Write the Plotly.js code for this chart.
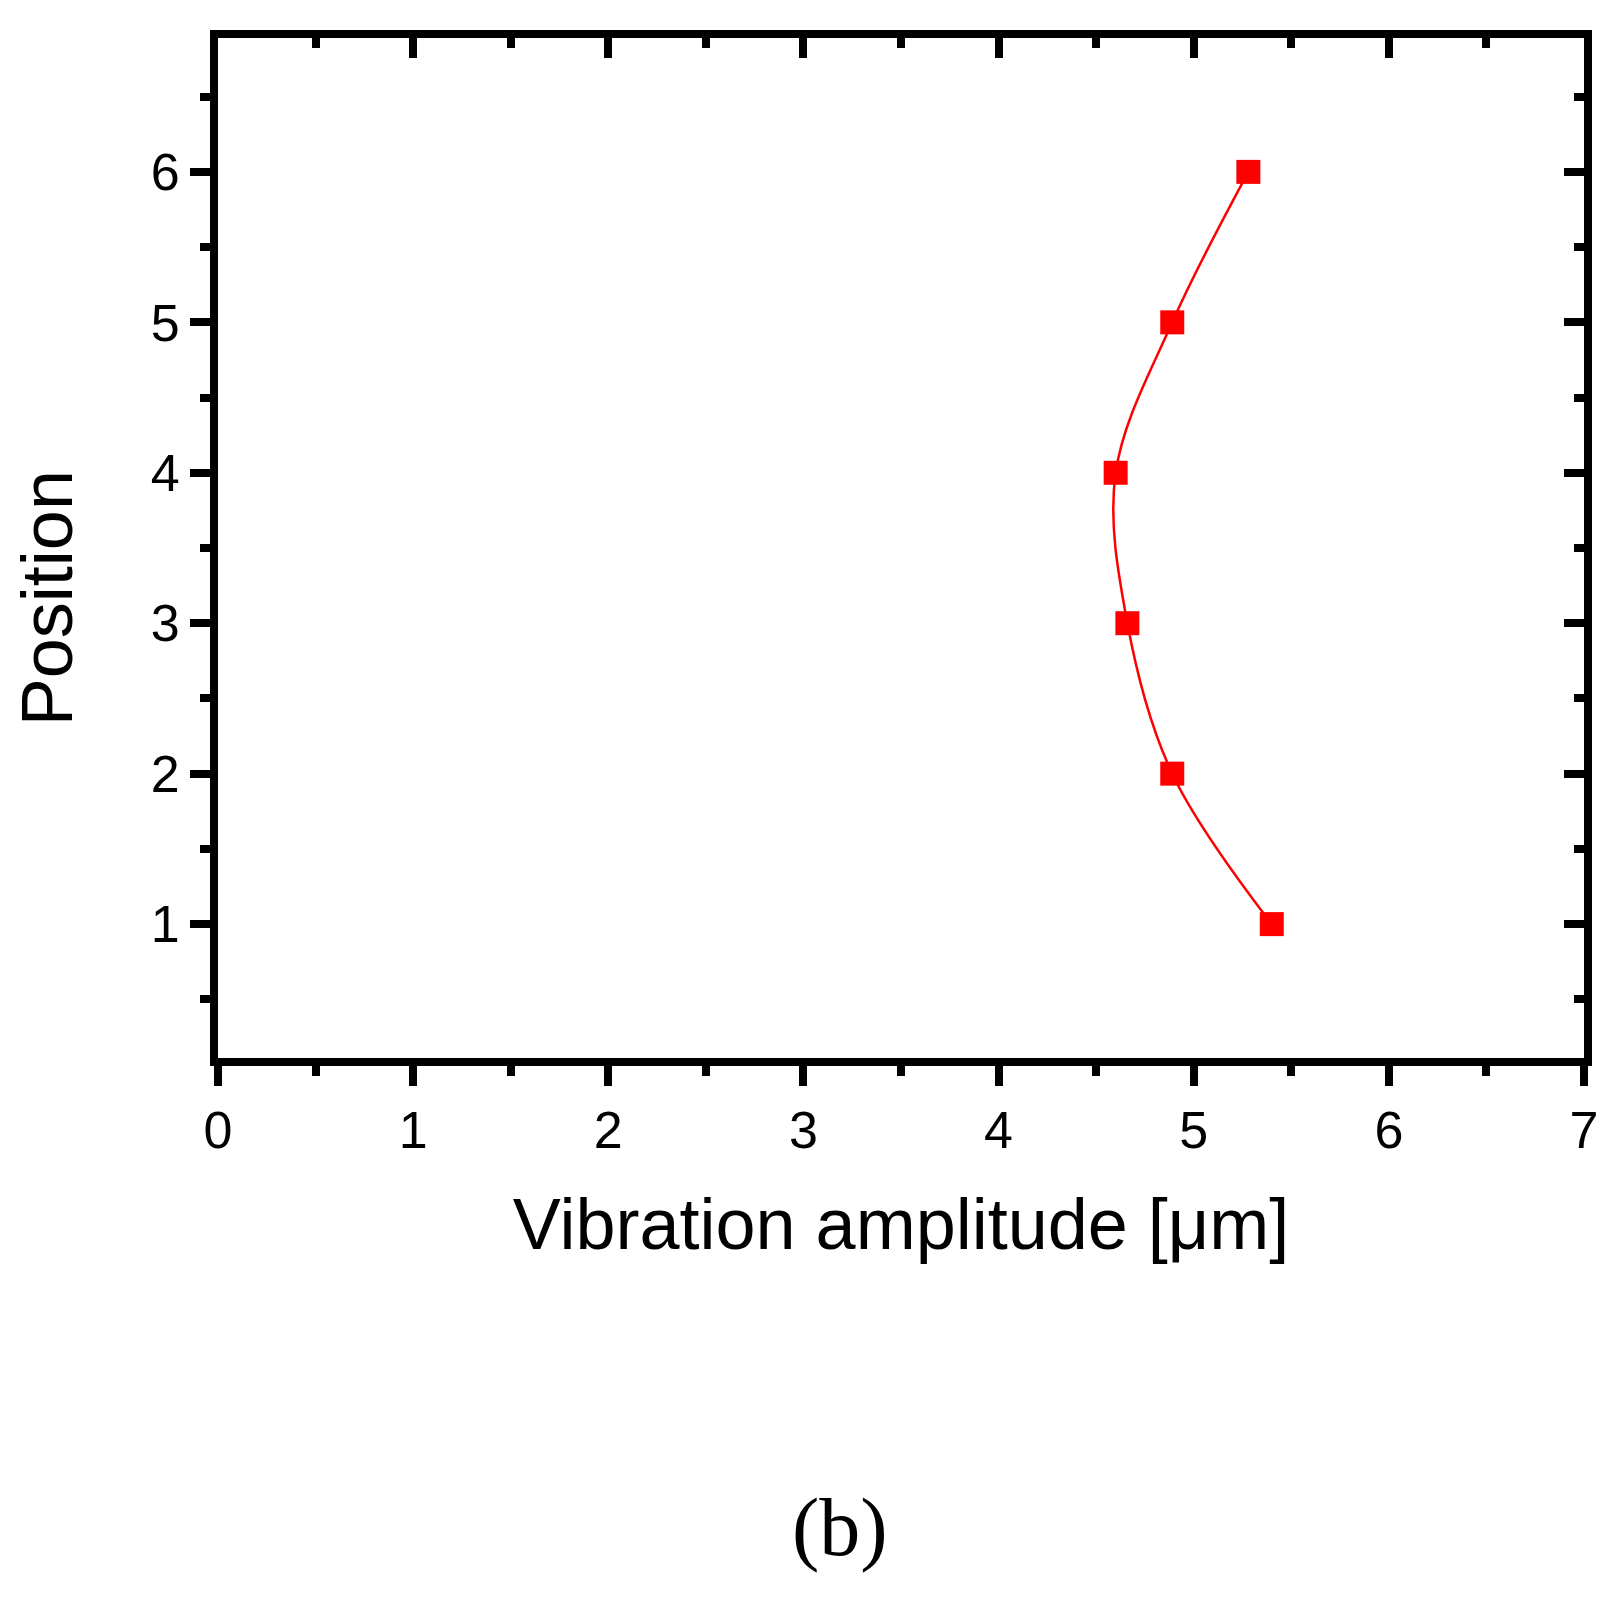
<!DOCTYPE html>
<html>
<head>
<meta charset="utf-8">
<script src="https://cdn.plot.ly/plotly-3.0.1.min.js"></script>
<style>
  body { margin: 0; background: #fff; }
  #chart { width: 1622px; height: 1608px; }
</style>
</head>
<body>
<div id="chart"></div>
<script>
var position = [1, 2, 3, 4, 5, 6];
var amplitude = [5.40, 4.89, 4.66, 4.60, 4.89, 5.28];
var xTitle = 'Vibration amplitude [\u03bcm]';
var yTitle = 'Position';
var panelLabel = '(b)';

var CHART = document.getElementById('chart');

var trace1 = {
  x: amplitude,
  y: position,
  type: 'scatter',
  mode: 'lines+markers',
  line: {color: '#ff0000', width: 2.5, shape: 'spline', smoothing: 1},
  marker: {symbol: 'square', size: 24, color: '#ff0000'},
  showlegend: false,
  hoverinfo: 'x+y'
};

// invisible copy so the mirrored top/right axes get drawn
var trace2 = {
  x: amplitude,
  y: position,
  xaxis: 'x2',
  yaxis: 'y2',
  type: 'scatter',
  mode: 'markers',
  marker: {size: 1, opacity: 0},
  showlegend: false,
  hoverinfo: 'skip'
};

var tickFont = {family: 'Liberation Sans, Arial, sans-serif', size: 52, color: '#000'};

function axisBase(range, dtick) {
  return {
    range: range,
    autorange: false,
    tick0: 0,
    dtick: dtick,
    showline: true,
    linecolor: '#000',
    linewidth: 8,
    ticks: 'outside',
    ticklen: 20,
    tickwidth: 8,
    tickcolor: '#000',
    showgrid: false,
    zeroline: false,
    tickfont: tickFont,
    minor: {dtick: dtick / 2, tick0: 0, ticks: 'outside', ticklen: 10, tickwidth: 8, tickcolor: '#000', showgrid: false}
  };
}

var xaxis = axisBase([0, 7], 1);
xaxis.title = {text: xTitle, font: {family: 'Liberation Sans, Arial, sans-serif', size: 72, color: '#000'}, standoff: 43};

var yaxis = axisBase([0.11, 6.89], 1);

var xaxis2 = axisBase([0, 7], 1);
xaxis2.overlaying = 'x';
xaxis2.anchor = 'y2';
xaxis2.side = 'top';
xaxis2.ticks = 'inside';
xaxis2.minor.ticks = 'inside';
xaxis2.showticklabels = false;

var yaxis2 = axisBase([0.11, 6.89], 1);
yaxis2.overlaying = 'y';
yaxis2.anchor = 'x2';
yaxis2.side = 'right';
yaxis2.ticks = 'inside';
yaxis2.minor.ticks = 'inside';
yaxis2.showticklabels = false;

var layout = {
  width: 1622,
  height: 1608,
  margin: {l: 218, r: 38, t: 38, b: 550},
  paper_bgcolor: '#fff',
  plot_bgcolor: '#fff',
  xaxis: xaxis,
  yaxis: yaxis,
  xaxis2: xaxis2,
  yaxis2: yaxis2,
  annotations: [
    {
      text: yTitle, xref: 'paper', yref: 'paper', x: -0.125, y: 0.451,
      xanchor: 'center', yanchor: 'middle', textangle: -90, showarrow: false,
      font: {family: 'Liberation Sans, Arial, sans-serif', size: 72, color: '#000'}
    },
    {
      text: panelLabel, xref: 'paper', yref: 'paper', x: 0.455, y: -0.46,
      xanchor: 'center', yanchor: 'middle', showarrow: false,
      font: {family: 'Liberation Serif, Times New Roman, serif', size: 82, color: '#000'}
    }
  ]
};

Plotly.newPlot(CHART, [trace2, trace1], layout, {displayModeBar: false, showLink: false});
</script>
</body>
</html>
